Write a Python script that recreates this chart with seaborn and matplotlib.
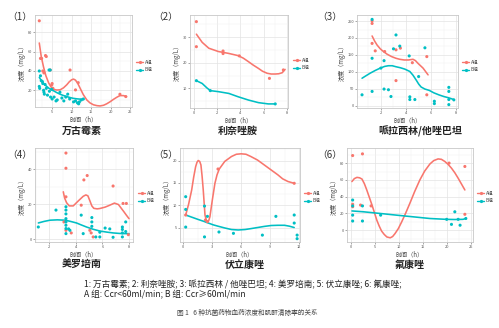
import matplotlib
matplotlib.use("Agg")
import matplotlib.pyplot as plt
from matplotlib.ticker import AutoMinorLocator
from matplotlib.lines import Line2D
import seaborn as sns
import pandas as pd

sns.set_theme(style="whitegrid")
plt.rcParams['font.family'] = ['Noto Sans CJK SC', 'DejaVu Sans']
plt.rcParams['axes.unicode_minus'] = False

RED = "#F8766D"
TEAL = "#00BFC4"
groups = ["A组", "B组"]

# ---------------- data ----------------
# Panel 1 万古霉素
p1_a_x = [1.7, 2.0, 2.3, 2.6, 2.9, 3.5, 3.3, 4.5, 4.9, 5.0, 5.2, 9.6, 11.0, 11.7, 22.4, 23.9]
p1_a_y = [92, 53, 53, 40, 38, 55, 56, 41, 25.5, 27, 22, 41, 20.4, 27.9, 15.9, 13.5]
p1_b_x = [1.7, 1.7, 1.8, 2.0, 2.2, 2.5, 2.6, 2.8, 2.9, 3.0, 3.2, 3.5, 3.8, 4.2, 4.5, 4.3,
          4.6, 4.9, 5.0, 5.5, 6.0, 6.3, 7.0, 7.5, 8.0, 8.5, 9.0, 9.5, 10.5, 11.0, 11.5,
          11.8, 12.0, 12.5, 13.0]
p1_b_y = [40, 24, 22, 35, 30, 29, 27, 20, 18, 16, 26, 22, 15, 41, 41, 19,
          13, 21, 11, 13, 9, 10, 18, 12, 9, 13, 16, 11, 8, 9, 7,
          6, 8, 10, 11]
p1_ca_x = [1.7, 2.2, 2.8, 3.4, 4.1, 4.7, 5.35, 6.2, 7.05, 7.9, 8.75, 9.4, 10.0, 10.5, 11.0,
           11.6, 12.2, 13.0, 13.9, 14.7, 15.6, 16.5, 17.3, 18.2, 19.0, 19.9, 20.7, 21.6,
           22.4, 23.3, 24.1]
p1_ca_y = [69, 55, 44, 35, 27.7, 23.5, 21, 20.3, 20.5, 22.5, 25.7, 28.8, 30.9, 31.6, 30.5,
           27, 22, 15.5, 10, 7, 5, 4.1, 3.8, 4.5, 6, 8.2, 10.5, 12.8, 14.5, 14.5, 13.5]
p1_cb_x = [1.7, 2.4, 3.2, 4.2, 5.35, 6.2, 7.0, 7.9, 8.75, 9.6, 10.4, 11.5, 12.6, 13.1]
p1_cb_y = [33.4, 29.0, 25.4, 22.0, 19.5, 17.6, 16, 14.6, 13.5, 12.5, 11.7, 11.1, 10.7, 10.5]

# Panel 2 利奈唑胺
p2_a_x = [0.2, 0.2, 2.5, 2.5, 3.9, 6.5, 7.7]
p2_a_y = [36.1, 26.3, 24.6, 23.6, 22.7, 13.9, 17.2]
p2_b_x = [0.2, 1.4, 7.0]
p2_b_y = [13.0, 9.1, 3.9]
p2_ca_x = [0.2, 0.7, 1.27, 2.1, 2.95, 3.8, 4.25, 4.7, 5.1, 5.55, 5.9, 6.3, 6.65, 7.0, 7.3, 7.6, 7.85]
p2_ca_y = [31.2, 28.0, 25.7, 24.4, 23.7, 22.8, 21.8, 20.4, 19.1, 17.8, 16.7, 15.9, 15.6, 15.6,
           15.7, 16.1, 17.4]
p2_cb_x = [0.2, 0.7, 1.1, 1.4, 2.1, 3.0, 3.8, 4.7, 5.55, 6.4, 7.0]
p2_cb_y = [13.0, 11.9, 10.2, 9.1, 8.7, 8.0, 6.7, 5.4, 4.4, 3.9, 3.9]

# Panel 3 哌拉西林/他唑巴坦
p3_a_x = [1.3, 1.3, 1.3, 1.55, 2.3, 3.2, 3.55, 3.2, 4.5, 5.65, 5.65]
p3_a_y = [251, 243, 184, 162, 160, 165, 170, 74, 127, 145, 32]
p3_b_x = [0.5, 1.3, 1.3, 1.3, 2.0, 2.25, 2.25, 2.6, 2.8, 3.0, 3.2, 3.5, 4.25, 4.3, 4.3,
          4.7, 5.0, 5.5, 6.25, 6.25, 7.4, 7.4, 7.4, 7.4, 7.8]
p3_b_y = [32, 255, 140, 42, 111, 133, 49, 47, 27, 168, 209, 176, 147, 26, 18,
          18, 86, 171, 13, 6, 54, 42, 18, 3, 17]
p3_ca_x = [1.3, 1.5, 1.7, 1.95, 2.2, 2.5, 2.85, 3.2, 3.5, 3.85, 4.2, 4.55, 4.75, 4.95, 5.15,
           5.35, 5.55, 5.75]
p3_ca_y = [206, 191, 179, 168, 160, 152, 145, 140, 137, 135, 135, 137, 133, 125, 118, 111, 101, 91]
p3_cb_x = [0.5, 0.8, 1.15, 1.55, 1.95, 2.3, 2.6, 2.9, 3.2, 3.55, 3.9, 4.3, 4.55, 4.8, 5.0, 5.2,
           5.5, 5.85, 6.2, 6.6, 7.0, 7.4, 7.8]
p3_cb_y = [81, 88, 96, 104, 111, 116, 118, 118, 115, 112, 108, 101, 90, 76, 64, 55, 49, 45, 38,
           32, 27, 23, 18]

# Panel 4 美罗培南
p4_a_x = [3.25, 3.25, 3.25, 3.1, 3.25, 3.65, 4.6, 4.85, 4.4, 5.05, 5.15, 5.3, 6.8, 7.55, 7.8, 7.95]
p4_a_y = [49.3, 40.6, 24.2, 9.8, 5.0, 3.5, 33.9, 36.4, 19.4, 5.0, 3.5, 1.2, 30.4, 20.4, 20.4, 2.5]
p4_b_x = [1.17, 2.5, 3.25, 3.25, 3.25, 3.25, 3.25, 3.25, 3.25, 3.25, 3.45, 3.55, 4.4, 4.55,
          5.2, 5.2, 5.2, 5.5, 5.8, 5.8, 6.2, 6.55, 6.8, 7.5, 7.5, 7.5, 7.5, 7.75, 7.75]
p4_b_y = [6.9, 16.6, 18.5, 16.6, 14.4, 11.7, 9.8, 7.9, 6.0, 3.1, 5.8, 5.0, 13.7, 3.1,
          12.3, 9.8, 7.3, 1.2, 1.2, 3.9, 6.3, 5.8, 1.0, 6.9, 5.5, 3.5, 1.2, 4.3, 9.8]
p4_ca_x = [3.05, 3.15, 3.3, 3.5, 3.8, 4.2, 4.55, 4.75, 4.9, 5.05, 5.2, 5.35, 5.6, 5.8, 6.2,
           6.55, 6.9, 7.2, 7.4, 7.6, 7.8, 8.0]
p4_ca_y = [27.1, 23.5, 20.8, 19.0, 19.0, 22.0, 24.5, 25.3, 24.8, 22.0, 19.0, 17.6, 17.3, 17.5,
           18.3, 19.4, 20.6, 19.8, 17.8, 15.8, 13.7, 11.7]
p4_cb_x = [1.17, 1.6, 2.05, 2.6, 3.2, 3.6, 4.05, 4.4, 4.8, 5.3, 5.8, 6.3, 6.8, 7.3, 7.8, 8.0]
p4_cb_y = [9.2, 10.1, 10.8, 11.0, 10.8, 10.1, 9.2, 8.1, 6.9, 5.6, 4.6, 4.0, 3.5, 3.2, 3.1, 3.1]

# Panel 5 伏立康唑
p5_a_x = [0.25, 2.3, 2.5, 3.6, 11.5]
p5_a_y = [7.8, 6.7, 6.3, 18.1, 14.9]
p5_b_x = [0.25, 0.25, 0.25, 2.2, 2.5, 2.2, 3.7, 5.2, 8.2, 9.6, 11.5, 11.5, 11.8, 11.8]
p5_b_y = [11.9, 9.05, 5.1, 9.8, 7.5, 2.9, 4.0, 3.7, 3.3, 7.5, 7.8, 6.0, 3.3, 2.5]
p5_ca_x = [0.25, 0.55, 0.87, 1.08, 1.28, 1.42, 1.55, 1.7, 1.83, 1.95, 2.07, 2.17, 2.25, 2.38,
           2.5, 2.63, 2.76, 3.0, 3.28, 3.5, 3.73, 4.3, 5.0, 5.5, 6.0, 6.5, 7.0, 7.7, 8.4,
           9.1, 9.8, 10.3, 10.85, 11.5]
p5_ca_y = [7.8, 10.2, 13.4, 16.3, 18.6, 19.6, 20.0, 19.8, 19.0, 16.5, 13.4, 10.3, 7.8, 6.7,
           6.3, 6.5, 7.4, 11.0, 14.9, 16.8, 18.1, 19.8, 20.9, 21.4, 21.5, 21.4, 20.9, 20.1,
           19.0, 17.9, 16.8, 15.9, 15.3, 14.9]
p5_cb_x = [0.25, 0.9, 1.55, 2.1, 2.6, 3.1, 3.6, 4.3, 5.0, 5.7, 6.4, 7.0, 7.7, 8.4, 9.1, 9.8,
           10.5, 11.0, 11.5]
p5_cb_y = [7.8, 7.3, 6.8, 6.4, 6.0, 5.6, 5.3, 4.9, 4.55, 4.45, 4.55, 4.75, 5.0, 5.25, 5.45,
           5.5, 5.5, 5.3, 5.0]

# Panel 6 氟康唑
p6_a_x = [0.35, 2.4, 0.35, 0.35, 2.0, 4.2, 20.5, 23.8, 23.8]
p6_a_y = [89, 91, 31, 28, 30, 29, 80, 76, 19]
p6_b_x = [0.35, 0.35, 0.35, 0.35, 2.4, 2.4, 6.2, 20.0, 21.0, 21.7, 22.4, 22.8, 24.0]
p6_b_y = [36, 29, 18, 11, 29, 11, 18, 13, 7, 22, 13, 6, 14]
p6_ca_x = [0.2, 0.7, 1.25, 1.8, 2.3, 2.8, 3.3, 3.85, 4.4, 4.9, 5.4, 5.9, 6.4, 6.95, 7.5,
           8.2, 8.7, 9.2, 9.9, 10.6, 11.4, 12.3, 13.3, 14.4, 15.4, 16.5, 17.3, 18.2, 18.9,
           19.6, 20.3, 21.0, 21.7, 22.4, 23.1, 23.8]
p6_ca_y = [58, 61.5, 63, 62.5, 61, 55.5, 48, 39, 30, 21, 12, 5, -1, -5, -8, -9, -7.5, -4, 2,
           10, 20, 32, 46, 60, 70.5, 79, 83, 85, 84.5, 82, 78.5, 74, 68.5, 62, 55, 48]
p6_cb_x = [0.2, 2.6, 6.1, 9.5, 13.0, 16.5, 19.9, 21.7, 23.4, 24.0]
p6_cb_y = [23, 22, 20, 18, 16, 14, 13, 12.8, 13, 14]

panel_titles = ["万古霉素", "利奈唑胺", "哌拉西林/他唑巴坦", "美罗培南", "伏立康唑", "氟康唑"]
panel_tags = ["（1）", "（2）", "（3）", "（4）", "（5）", "（6）"]
xticks = [[5, 10, 15, 20, 25], [0, 2, 4, 6, 8], [2, 4, 6, 8], [2, 4, 6, 8], [0, 3, 6, 9, 12],
          [0, 5, 10, 15, 20, 25]]
yticks = [[20, 40, 60, 80], [10, 20, 30], [0, 50, 100, 150, 200, 250], [0, 20, 40],
          [5, 10, 15, 20], [0, 20, 40, 60, 80]]
xlabel = "时间（h）"
ylabel = "浓度（mg/L）"
caption1 = "1: 万古霉素; 2: 利奈唑胺; 3: 哌拉西林 / 他唑巴坦; 4: 美罗培南; 5: 伏立康唑; 6: 氟康唑;"
caption2 = "A 组: Ccr<60ml/min; B 组: Ccr≥60ml/min"
fig_caption = "图 1   6 种抗菌药物血药浓度和肌酐清除率的关系"

panels = [
    (p1_a_x, p1_a_y, p1_b_x, p1_b_y, p1_ca_x, p1_ca_y, p1_cb_x, p1_cb_y),
    (p2_a_x, p2_a_y, p2_b_x, p2_b_y, p2_ca_x, p2_ca_y, p2_cb_x, p2_cb_y),
    (p3_a_x, p3_a_y, p3_b_x, p3_b_y, p3_ca_x, p3_ca_y, p3_cb_x, p3_cb_y),
    (p4_a_x, p4_a_y, p4_b_x, p4_b_y, p4_ca_x, p4_ca_y, p4_cb_x, p4_cb_y),
    (p5_a_x, p5_a_y, p5_b_x, p5_b_y, p5_ca_x, p5_ca_y, p5_cb_x, p5_cb_y),
    (p6_a_x, p6_a_y, p6_b_x, p6_b_y, p6_ca_x, p6_ca_y, p6_cb_x, p6_cb_y),
]

# ---------------- layout (pixels) ----------------
W, H = 499, 328
boxes = [(35, 132, 15, 107), (190, 288, 15, 108), (357, 458, 15, 108),
         (35, 133, 148, 242), (180, 300, 148, 242), (347, 473, 148, 242)]
xlims = [(0.6, 25.5), (-0.35, 8.1), (0.1, 8.13), (0.92, 8.3), (-0.34, 12.1), (-0.83, 25.5)]
ylims = [(2.7, 98), (2.3, 38.7), (-7, 268), (-1.7, 52.2), (1.76, 22.8), (-14, 98)]
legend_pos = [(134, 66), (291, 64), (460, 66), (136, 197), (302, 197), (475, 197)]
tag_pos = [(7, 17), (153, 17), (317, 17), (7, 155), (153, 155), (317, 155)]
title_pos = [(82, 131), (238, 131), (420, 131), (82, 265), (245, 265), (410, 265)]

fig = plt.figure(figsize=(W / 100, H / 100), dpi=100)
fig.patch.set_facecolor("white")

for i, (ax_x, ay, bx, by, cax, cay, cbx, cby) in enumerate(panels):
    l, r, t, b = boxes[i]
    ax = fig.add_axes([l / W, 1 - b / H, (r - l) / W, (b - t) / H])
    ax.set_facecolor("white")
    pts = pd.DataFrame({"x": list(ax_x) + list(bx), "y": list(ay) + list(by),
                        "g": ["A组"] * len(ax_x) + ["B组"] * len(bx)})
    crv = pd.DataFrame({"x": list(cax) + list(cbx), "y": list(cay) + list(cby),
                        "g": ["A组"] * len(cax) + ["B组"] * len(cbx)})
    sns.lineplot(data=crv, x="x", y="y", hue="g", hue_order=groups,
                 palette=[RED, TEAL], estimator=None, sort=True, lw=1.15,
                 legend=False, ax=ax, zorder=3)
    sns.scatterplot(data=pts, x="x", y="y", hue="g", hue_order=groups,
                    palette=[RED, TEAL], s=5, linewidth=0, legend=False, ax=ax, zorder=4)
    ax.set_xlim(*xlims[i])
    ax.set_ylim(*ylims[i])
    ax.set_xticks(xticks[i])
    ax.set_yticks(yticks[i])
    ax.xaxis.set_minor_locator(AutoMinorLocator(2))
    ax.yaxis.set_minor_locator(AutoMinorLocator(2))
    ax.grid(which="major", color="#e3e3e3", lw=0.5)
    ax.grid(which="minor", color="#f0f0f0", lw=0.35)
    ax.tick_params(axis="both", which="major", labelsize=2.8, length=1.2, width=0.4,
                   pad=0.8, colors="#666666", labelcolor="#555555", bottom=True, left=True)
    ax.tick_params(which="minor", length=0)
    for sp in ax.spines.values():
        sp.set_color("#c8c8c8")
        sp.set_linewidth(0.6)
    ax.set_xlabel(xlabel, fontsize=4.4, color="#444444", labelpad=1.2)
    ax.set_ylabel(ylabel, fontsize=4.4, color="#444444", labelpad=1.5)

    handles = [Line2D([0], [0], color=RED, lw=1.0, marker="o", ms=1.3),
               Line2D([0], [0], color=TEAL, lw=1.0, marker="o", ms=1.3)]
    lx, ly = legend_pos[i]
    fig.legend(handles, groups, loc="center left", bbox_to_anchor=(lx / W, 1 - ly / H),
               frameon=False, fontsize=3.4, handlelength=1.4, handletextpad=0.4,
               labelspacing=0.5, borderpad=0, labelcolor="#444444")

    tx, ty = tag_pos[i]
    fig.text(tx / W, 1 - ty / H, panel_tags[i], fontsize=7, color="#333333",
             ha="left", va="center")
    hx, hy = title_pos[i]
    fig.text(hx / W, 1 - hy / H, panel_titles[i], fontsize=7.2, fontweight="bold",
             color="#222222", ha="center", va="center")

fig.text(84 / W, 1 - 285 / H, caption1, fontsize=6.2, color="#222222", ha="left", va="center")
fig.text(84 / W, 1 - 294.5 / H, caption2, fontsize=6.2, color="#222222", ha="left", va="center")
fig.text(247 / W, 1 - 313 / H, fig_caption, fontsize=4.8, color="#444444", ha="center", va="center")

fig.savefig("out.png", dpi=100, facecolor="white")
